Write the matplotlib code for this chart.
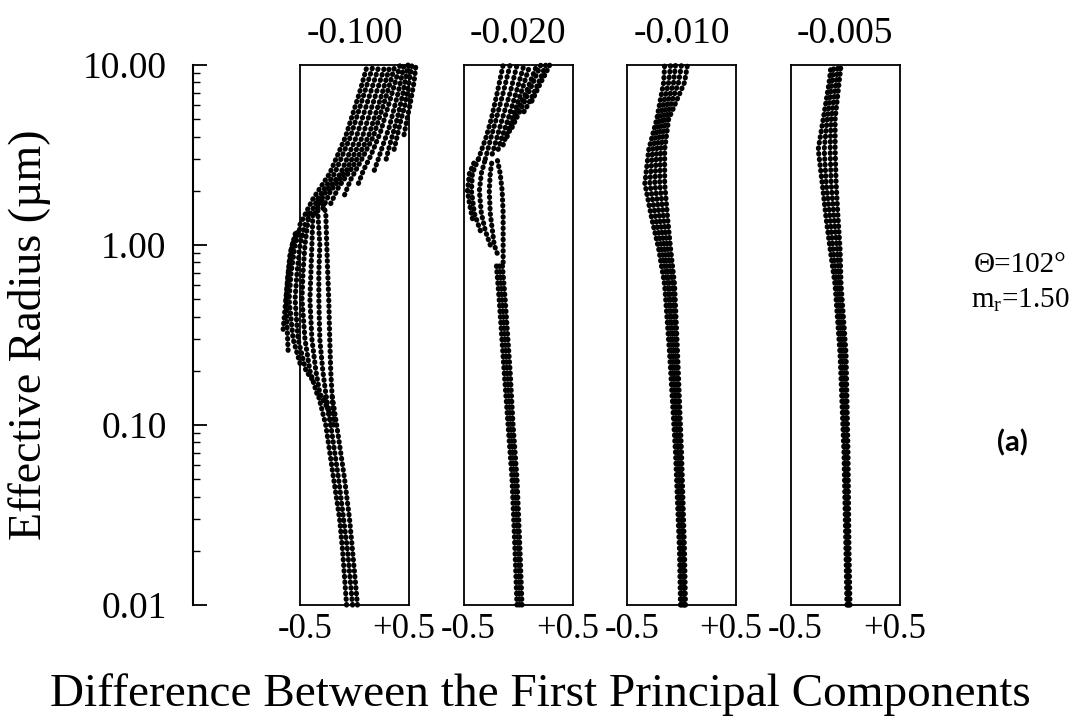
import matplotlib
matplotlib.use('Agg')
import matplotlib.pyplot as plt
from matplotlib.ticker import NullFormatter, NullLocator

plt.rcParams['font.family'] = ['Liberation Serif', 'DejaVu Serif']
plt.rcParams['mathtext.fontset'] = 'custom'
plt.rcParams['mathtext.rm'] = 'Liberation Serif'

titles = ['-0.100', '-0.020', '-0.010', '-0.005']
radius_ticks = [0.01, 0.1, 1, 10]
radius_labels = ['0.01', '0.10', '1.00', '10.00']

# panel 1: trunk, middle fan, upper fan (radius in um, difference)
p1_r = [
    [0.01, 0.02, 0.03, 0.05, 0.1, 0.15],
    [0.01, 0.02, 0.03, 0.05, 0.1, 0.15],
    [0.01, 0.02, 0.03, 0.05, 0.1, 0.15],
    [0.1, 0.2, 0.3, 0.5, 0.7, 1.0, 1.5, 1.8],
    [0.1, 0.15, 0.2, 0.3, 0.5, 0.7, 1.0, 1.5, 1.8],
    [0.12, 0.15, 0.2, 0.3, 0.5, 0.7, 1.0, 1.5],
    [0.15, 0.2, 0.3, 0.5, 0.7, 1.0, 1.5],
    [0.18, 0.2, 0.3, 0.5, 0.7, 1.0, 1.3],
    [0.22, 0.3, 0.5, 0.7, 1.0, 1.3],
    [0.26, 0.35, 0.5, 0.7, 1.0, 1.2],
    [0.34, 0.45, 0.6, 0.9, 1.2],
    [1.3, 1.8, 2.5, 4, 7, 10],
    [1.4, 1.8, 2.5, 4, 7, 10],
    [1.5, 1.9, 2.5, 4, 7, 10],
    [1.6, 2.0, 2.6, 4, 7, 10],
    [1.7, 2.1, 2.7, 4, 7, 10],
    [1.9, 2.3, 2.9, 4, 7, 10],
    [2.2, 2.6, 3.1, 4.2, 7, 10],
    [2.6, 3.0, 3.5, 4.5, 7, 10],
    [3.0, 3.5, 4.2, 5, 7, 10],
    [3.4, 4, 5, 6, 8, 10],
    [4.1, 5, 6, 8, 10],
]
p1_x = [
    [0.03, -0.02, -0.05, -0.10, -0.18, -0.23],
    [-0.02, -0.07, -0.11, -0.16, -0.24, -0.30],
    [-0.08, -0.12, -0.15, -0.21, -0.29, -0.37],
    [-0.21, -0.24, -0.25, -0.26, -0.27, -0.28, -0.29, -0.33],
    [-0.24, -0.29, -0.32, -0.35, -0.36, -0.36, -0.35, -0.37, -0.37],
    [-0.26, -0.35, -0.39, -0.43, -0.45, -0.44, -0.43, -0.42],
    [-0.38, -0.45, -0.50, -0.53, -0.52, -0.50, -0.46],
    [-0.43, -0.49, -0.57, -0.60, -0.58, -0.55, -0.50],
    [-0.55, -0.62, -0.66, -0.64, -0.60, -0.54],
    [-0.67, -0.68, -0.69, -0.67, -0.63, -0.57],
    [-0.72, -0.70, -0.68, -0.65, -0.59],
    [-0.55, -0.42, -0.25, -0.09, 0.05, 0.13],
    [-0.47, -0.37, -0.20, -0.04, 0.10, 0.19],
    [-0.40, -0.31, -0.14, 0.02, 0.16, 0.25],
    [-0.32, -0.24, -0.08, 0.08, 0.22, 0.31],
    [-0.24, -0.16, -0.02, 0.14, 0.28, 0.36],
    [-0.10, -0.04, 0.06, 0.19, 0.33, 0.41],
    [0.04, 0.09, 0.16, 0.26, 0.38, 0.46],
    [0.20, 0.24, 0.28, 0.35, 0.44, 0.50],
    [0.32, 0.35, 0.39, 0.43, 0.49, 0.54],
    [0.40, 0.43, 0.47, 0.51, 0.55, 0.58],
    [0.50, 0.53, 0.56, 0.60, 0.62],
]

# panel 2
p2_r = [
    [0.01, 0.02, 0.05, 0.1, 0.2, 0.5, 0.8],
    [0.01, 0.02, 0.05, 0.1, 0.2, 0.5, 0.8],
    [0.01, 0.02, 0.05, 0.1, 0.2, 0.5, 0.8],
    [0.8, 1, 1.5, 2, 2.5, 3],
    [0.9, 1, 1.5, 2, 2.5, 3],
    [1.0, 1.2, 1.5, 2, 2.5, 3],
    [1.2, 1.5, 2, 2.5, 3],
    [1.4, 1.7, 2, 2.5, 2.9],
    [3, 4, 5, 7, 10],
    [3, 4, 5, 7, 10],
    [3.2, 4, 5, 7, 10],
    [3.4, 4, 5, 7, 10],
    [3.6, 4.2, 5, 7, 10],
    [4, 4.5, 5.5, 7, 10],
    [4.5, 5, 6, 7.5, 10],
    [5.5, 6, 7, 8.5, 10],
    [6.3, 7, 8, 9, 10],
]
p2_x = [
    [0.04, 0.02, -0.01, -0.05, -0.08, -0.13, -0.16],
    [0.015, 0.00, -0.035, -0.075, -0.11, -0.16, -0.19],
    [-0.01, -0.03, -0.06, -0.10, -0.14, -0.19, -0.22],
    [-0.15, -0.15, -0.15, -0.16, -0.18, -0.21],
    [-0.21, -0.24, -0.28, -0.29, -0.28, -0.26],
    [-0.28, -0.33, -0.37, -0.39, -0.37, -0.33],
    [-0.38, -0.44, -0.47, -0.46, -0.40],
    [-0.46, -0.49, -0.51, -0.49, -0.44],
    [-0.40, -0.32, -0.27, -0.21, -0.15],
    [-0.33, -0.27, -0.22, -0.15, -0.08],
    [-0.26, -0.21, -0.16, -0.08, -0.01],
    [-0.20, -0.16, -0.10, -0.02, 0.06],
    [-0.15, -0.11, -0.06, 0.03, 0.12],
    [-0.11, -0.07, -0.01, 0.08, 0.19],
    [-0.06, -0.02, 0.05, 0.13, 0.23],
    [0.06, 0.10, 0.16, 0.23, 0.28],
    [0.14, 0.18, 0.23, 0.28, 0.32],
]

# panels 3 and 4 share one radius grid
band_r = [0.01, 0.02, 0.07, 0.25, 0.6, 0.95, 1.4, 2.2, 3.4, 5, 8, 10]
p3_x = [
    [-0.01, -0.02, -0.06, -0.12, -0.17, -0.23, -0.30, -0.37, -0.33, -0.25, -0.18, -0.17],
    [0.00, -0.01, -0.04, -0.10, -0.14, -0.20, -0.26, -0.32, -0.29, -0.22, -0.13, -0.11],
    [0.02, 0.01, -0.03, -0.08, -0.12, -0.17, -0.22, -0.27, -0.25, -0.19, -0.08, -0.06],
    [0.03, 0.02, -0.01, -0.06, -0.09, -0.14, -0.18, -0.22, -0.21, -0.16, -0.03, 0.00],
    [0.04, 0.03, 0.00, -0.04, -0.07, -0.11, -0.14, -0.17, -0.17, -0.13, 0.03, 0.06],
]
p4_x = [
    [0.02, 0.01, -0.01, -0.05, -0.10, -0.15, -0.19, -0.23, -0.27, -0.22, -0.16, -0.14],
    [0.03, 0.02, 0.00, -0.03, -0.08, -0.12, -0.15, -0.19, -0.21, -0.18, -0.13, -0.11],
    [0.04, 0.03, 0.02, -0.01, -0.06, -0.08, -0.11, -0.14, -0.15, -0.14, -0.09, -0.07],
    [0.05, 0.04, 0.03, 0.01, -0.04, -0.05, -0.07, -0.09, -0.10, -0.10, -0.06, -0.04],
]

panels = [
    (p1_r, p1_x),
    (p2_r, p2_x),
    ([band_r] * len(p3_x), p3_x),
    ([band_r] * len(p4_x), p4_x),
]

W, H = 1070, 723
fig = plt.figure(figsize=(W / 100, H / 100), dpi=100)
bottom, height = 118 / H, 540 / H

# shared radius axis on the left
axy = fig.add_axes([193 / W, bottom, 0.01, height])
axy.set_yscale('log')
axy.set_ylim(0.01, 10)
for s in ['top', 'right', 'bottom']:
    axy.spines[s].set_visible(False)
axy.spines['left'].set_linewidth(1.5)
axy.set_xticks([])
axy.set_yticks(radius_ticks, radius_labels)
axy.yaxis.set_minor_formatter(NullFormatter())
axy.tick_params(axis='y', which='major', direction='in', length=10, width=1.3,
                pad=19, labelsize=27)
axy.tick_params(axis='y', which='minor', direction='in', length=5, width=1.0)
axy.patch.set_visible(False)

lefts = [300, 463.5, 627, 790.5]
for left, title, (rr, xx) in zip(lefts, titles, panels):
    ax = fig.add_axes([left / W, bottom, 109 / W, height])
    ax.set_yscale('log')
    ax.set_ylim(0.01, 10)
    ax.set_xlim(-0.55, 0.55)
    ax.set_yticks([])
    ax.yaxis.set_minor_locator(NullLocator())
    ax.set_xticks([-0.5, 0.5], ['-0.5', '+0.5'])
    ax.tick_params(axis='x', length=0, pad=6, labelsize=25)
    for s in ax.spines.values():
        s.set_linewidth(1.3)
    ax.set_title(title, fontsize=27, pad=16)
    # each family member is a dense chain of dots
    for r, x in zip(rr, xx):
        ax.plot(x, r, color='black', lw=3.7, ls=(0, (0.1, 1.0)),
                dash_capstyle='round', clip_on=False)

fig.text(0.028, 1 - 335 / H, 'Effective Radius (µm)', rotation=90,
         ha='center', va='center', fontsize=33)
fig.text(540 / W, 1 - 695 / H, 'Difference Between the First Principal Components',
         ha='center', va='center', fontsize=34)
fig.text(1020 / W, 1 - 265 / H, 'Θ=102°', ha='center', va='center', fontsize=21)
fig.text(1020 / W, 1 - 300 / H, r'm$_\mathregular{r}$=1.50', ha='center',
         va='center', fontsize=21)
fig.text(1012 / W, 1 - 443 / H, '(a)', ha='center', va='center', fontsize=21,
         family=['Lato', 'DejaVu Sans'], fontweight='bold')

fig.savefig('out.png', dpi=100)
